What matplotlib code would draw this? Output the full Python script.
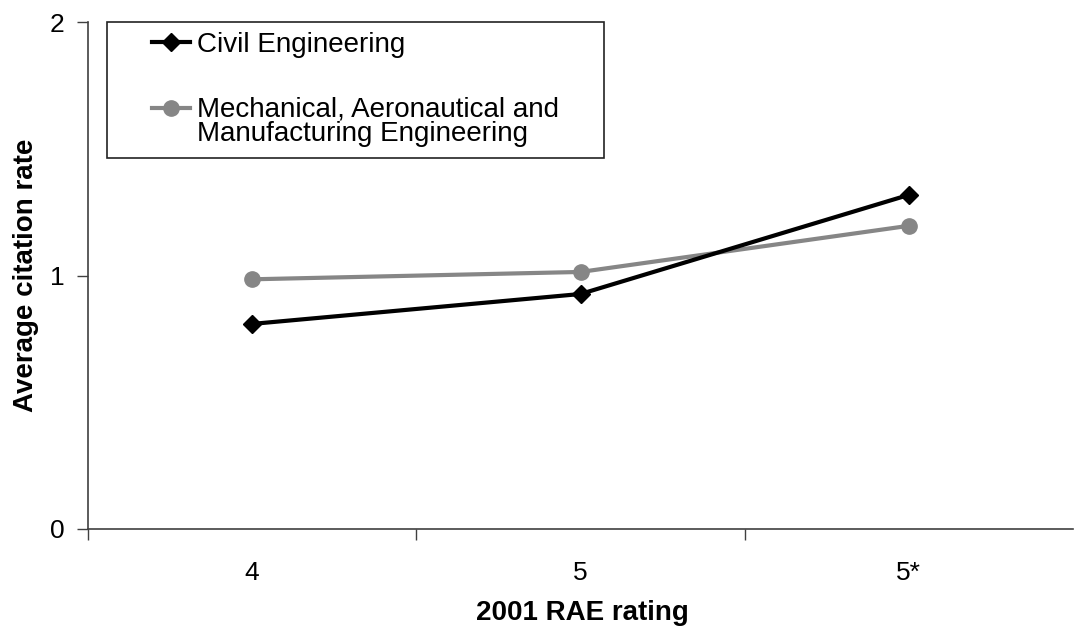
import matplotlib
matplotlib.use("Agg")
import matplotlib.pyplot as plt
from matplotlib.lines import Line2D
from matplotlib.patches import Rectangle

plt.rcParams["font.family"] = ["Liberation Sans", "DejaVu Sans"]

# data
ratings = ["4", "5", "5*"]
civil = [0.809, 0.927, 1.318]
mech = [0.985, 1.014, 1.196]
series_names = ["Civil Engineering",
                "Mechanical, Aeronautical and\nManufacturing Engineering"]
y_ticks = [0, 1, 2]

C_CIVIL = "#000000"
C_MECH = "#868686"
C_AXIS = "#404040"

W, H = 1074, 632
fig = plt.figure(figsize=(W / 100, H / 100), dpi=100)
ax = fig.add_axes([88 / W, 1 - 529 / H, (1073 - 88) / W, (529 - 22) / H])

x = list(range(len(ratings)))
ax.plot(x, civil, "-D", color=C_CIVIL, lw=3.0, ms=9, mec=C_CIVIL, zorder=4)
ax.plot(x, mech, "-o", color=C_MECH, lw=3.0, ms=11, mec=C_MECH, zorder=3)

ax.set_xlim(-0.5, len(ratings) - 0.5)
ax.set_ylim(0, 2)
ax.set_yticks(y_ticks)
ax.set_yticklabels([str(v) for v in y_ticks])

# category boundaries carry the tick marks, labels sit between them
ax.set_xticks([i - 0.5 for i in range(len(ratings))])
ax.set_xticklabels([])
ax.set_xticks(x, minor=True)
ax.set_xticklabels(ratings, minor=True)
ax.tick_params(axis="x", which="minor", length=0, pad=23, labelsize=19)
ax.tick_params(axis="x", which="major", length=8, width=1, direction="out", color=C_AXIS)
ax.tick_params(axis="y", length=8, width=1, direction="out", color=C_AXIS, pad=9, labelsize=19)

for s in ("top", "right"):
    ax.spines[s].set_visible(False)
for s in ("left", "bottom"):
    ax.spines[s].set_color(C_AXIS)
    ax.spines[s].set_linewidth(1.2)

fig.text(582 / W, 1 - 613 / H, "2001 RAE rating", fontsize=20, fontweight="bold",
         ha="center", va="center")
fig.text(26 / W, 1 - 275 / H, "Average citation rate", fontsize=20, fontweight="bold",
         ha="center", va="center", rotation=90)

# legend box drawn Excel-style
fig.patches.append(Rectangle((107 / W, 1 - 158 / H), (604 - 107) / W, (158 - 22) / H,
                             transform=fig.transFigure, fill=False, lw=1.2,
                             edgecolor="#222222", zorder=5))
fig.lines.append(Line2D([152 / W, 190 / W], [1 - 42 / H] * 2, transform=fig.transFigure,
                        color=C_CIVIL, lw=3.0))
fig.lines.append(Line2D([171 / W], [1 - 42 / H], transform=fig.transFigure,
                        marker="D", ms=9, color=C_CIVIL))
fig.lines.append(Line2D([152 / W, 190 / W], [1 - 108 / H] * 2, transform=fig.transFigure,
                        color=C_MECH, lw=3.0))
fig.lines.append(Line2D([171 / W], [1 - 108 / H], transform=fig.transFigure,
                        marker="o", ms=11, color=C_MECH))
fig.text(197 / W, 1 - 52 / H, series_names[0], fontsize=20, ha="left", va="baseline")
fig.text(197 / W, 1 - 97 / H, series_names[1], fontsize=20, ha="left", va="top",
         linespacing=0.92)

fig.savefig("out.png", dpi=100)
